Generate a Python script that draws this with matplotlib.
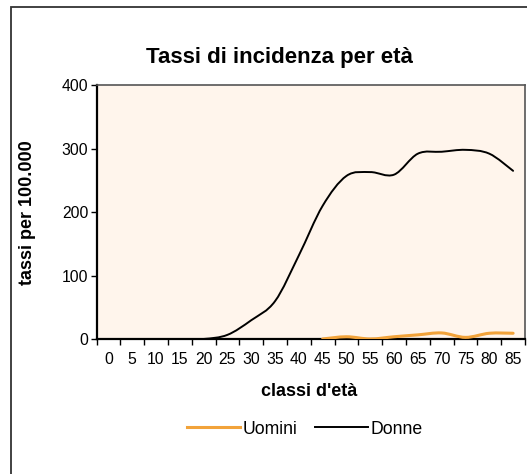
import numpy as np
import matplotlib
matplotlib.use("Agg")
import matplotlib.pyplot as plt
from matplotlib.path import Path
from matplotlib.patches import PathPatch, Rectangle
from matplotlib.lines import Line2D

plt.rcParams['font.family'] = ['Liberation Sans', 'DejaVu Sans']

categories = ['0', '5', '10', '15', '20', '25', '30', '35', '40', '45',
              '50', '55', '60', '65', '70', '75', '80', '85']
uomini = [np.nan, np.nan, np.nan, np.nan, np.nan, np.nan, np.nan, np.nan, np.nan,
          0.5, 4, 0.5, 4, 7, 10, 3, 9.5, 9.5]
donne = [0, 0, 0, 0, 0.5, 7, 30, 60, 132, 210, 257, 263, 259, 292, 295, 298, 292, 265]
yticks = [0, 100, 200, 300, 400]

W, H = 527, 474
fig = plt.figure(figsize=(W / 100, H / 100), dpi=100)
fig.patch.set_facecolor('white')

# outer frame
fig.add_artist(Rectangle((11 / W, -0.1), 1.2, 1 - 7.3 / H + 0.1, transform=fig.transFigure,
                         facecolor='none', edgecolor='#333333', lw=1.3))

ax = fig.add_axes([96.5 / W, 1 - 339.3 / H, (525 - 96.5) / W, (339.3 - 85) / H])
ax.set_facecolor('#FFF5EC')


def smooth_path(xs, ys):
    pts = [(x, y) for x, y in zip(xs, ys) if not np.isnan(y)]
    pts = np.array(pts, dtype=float)
    n = len(pts)
    verts = [pts[0]]
    codes = [Path.MOVETO]
    for i in range(n - 1):
        p0 = pts[i - 1] if i > 0 else pts[i]
        p1 = pts[i]
        p2 = pts[i + 1]
        p3 = pts[i + 2] if i + 2 < n else pts[i + 1]
        c1 = p1 + (p2 - p0) / 6.0
        c2 = p2 - (p3 - p1) / 6.0
        verts += [c1, c2, p2]
        codes += [Path.CURVE4] * 3
    return Path(verts, codes)


xs = np.arange(len(categories))
ax.add_patch(PathPatch(smooth_path(xs, uomini), facecolor='none', edgecolor='#F2A33A',
                       lw=2.2, capstyle='round', joinstyle='round', zorder=3))
ax.add_patch(PathPatch(smooth_path(xs, donne), facecolor='none', edgecolor='black',
                       lw=1.4, capstyle='round', joinstyle='round', zorder=4))

ax.set_xlim(-0.5, len(categories) - 0.5)
ax.set_ylim(0, 400)
ax.set_yticks(yticks)
ax.set_yticklabels([str(v) for v in yticks], fontsize=11.3)
ax.set_xticks(np.arange(len(categories) + 1) - 0.5)
ax.set_xticklabels([])
ax.set_xticks(xs, minor=True)
ax.set_xticklabels(categories, minor=True, fontsize=11.3)
ax.tick_params(axis='x', which='major', direction='out', length=4, width=1, color='black')
ax.tick_params(axis='x', which='minor', length=0, pad=9)
ax.tick_params(axis='y', direction='out', length=4, width=1, pad=2)

for s in ['left', 'bottom']:
    ax.spines[s].set_color('black')
    ax.spines[s].set_linewidth(1.6)
for s in ['top', 'right']:
    ax.spines[s].set_color('#555555')
    ax.spines[s].set_linewidth(1.2)

fig.text(279 / W, 1 - 58 / H, 'Tassi di incidenza per età', ha='center', va='center',
         fontsize=16, fontweight='bold')
fig.text(309 / W, 1 - 391 / H, "classi d'età", ha='center', va='center',
         fontsize=13, fontweight='bold')
fig.text(27 / W, 1 - 212.5 / H, 'tassi per 100.000', ha='center', va='center',
         rotation=90, fontsize=13, fontweight='bold')

handles = [Line2D([], [], color='#F2A33A', lw=2.2), Line2D([], [], color='black', lw=1.4)]
fig.legend(handles, ['Uomini', 'Donne'], loc='center', bbox_to_anchor=(305 / W, 1 - 429 / H),
           ncol=2, frameon=False, fontsize=12.7, handlelength=3.0, handletextpad=0.15,
           columnspacing=1.0)

fig.savefig('out.png', dpi=100)
